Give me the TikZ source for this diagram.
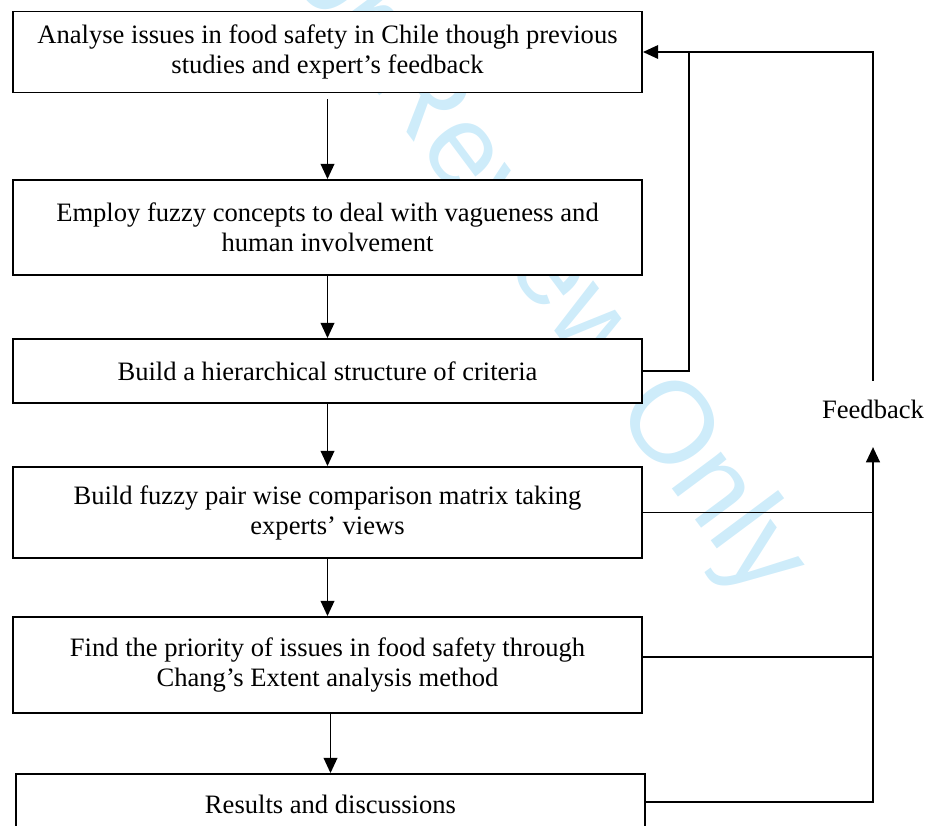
\documentclass[tikz,border=0pt]{standalone}
\usepackage{fontspec}
\setmainfont{Liberation Serif}
\newfontfamily\markfont{Liberation Sans}
\usetikzlibrary{positioning,arrows.meta}

\definecolor{markblue}{RGB}{206,236,250}

\tikzset{
  stage/.style={draw, line width=1.3pt, fill=white, minimum width=15.725cm, align=center, inner sep=0pt},
  flow/.style={line width=1.3pt, -{Triangle[length=0.38cm,width=0.34cm]}},
  link/.style={line width=1.3pt},
}

\begin{document}
\begin{tikzpicture}[x=0.025cm, y=-0.025cm, font=\fontsize{18.9}{21.3}\selectfont]
    \useasboundingbox (0,0) rectangle (927,825);
    \clip (0,0) rectangle (927,825);

    % watermark
    \node[rotate=-53.3, anchor=base, text=markblue, font=\markfont\fontsize{82.5}{90}\selectfont] (mark) at (500,258) {For Review Only};

    \node[stage, minimum height=2.025cm] (analyse) at (327.5,52) {Analyse issues in food safety in Chile though previous\\ studies and expert’s feedback};
    \node[stage, minimum height=2.375cm] (fuzzy) at (327.5,227.5) {Employ fuzzy concepts to deal with vagueness and\\ human involvement};
    \node[stage, minimum height=1.6cm] (hierarchy) at (327.5,371) {Build a hierarchical structure of criteria};
    \node[stage, minimum height=2.275cm] (matrix) at (327.5,512.5) {Build fuzzy pair wise comparison matrix taking\\ experts’ views};
    \node[stage, minimum height=2.4cm] (priority) at (327.5,665) {Find the priority of issues in food safety through\\ Chang’s Extent analysis method};
    \node[stage, minimum height=1.5cm] (results) at (330.5,804) {Results and discussions};

    \node[inner xsep=0pt, inner ysep=0.46cm] (feedback) at (873,409) {Feedback};
    \coordinate (loop) at (689,52);

    \draw[flow, shorten <=0.15cm] (analyse) -- (fuzzy);
    \draw[flow] (fuzzy) -- (hierarchy);
    \draw[flow] (hierarchy) -- (matrix);
    \draw[flow] (matrix) -- (priority);
    \draw[flow] (priority.south -| results.north) -- (results.north);

    % feedback loops
    \draw[flow] (feedback.north) |- (analyse.east);
    \draw[link] (hierarchy.east) -| (loop);
    \draw[link] (matrix.east) -- (matrix.east -| feedback.south);
    \draw[link] ([yshift=0.2cm]priority.east) -- ([yshift=0.2cm]priority.east -| feedback.south);
    \draw[flow, line width=1.6pt, shorten >=0.25cm] ([yshift=0.05cm]results.east) -| (feedback.south);
\end{tikzpicture}
\end{document}
